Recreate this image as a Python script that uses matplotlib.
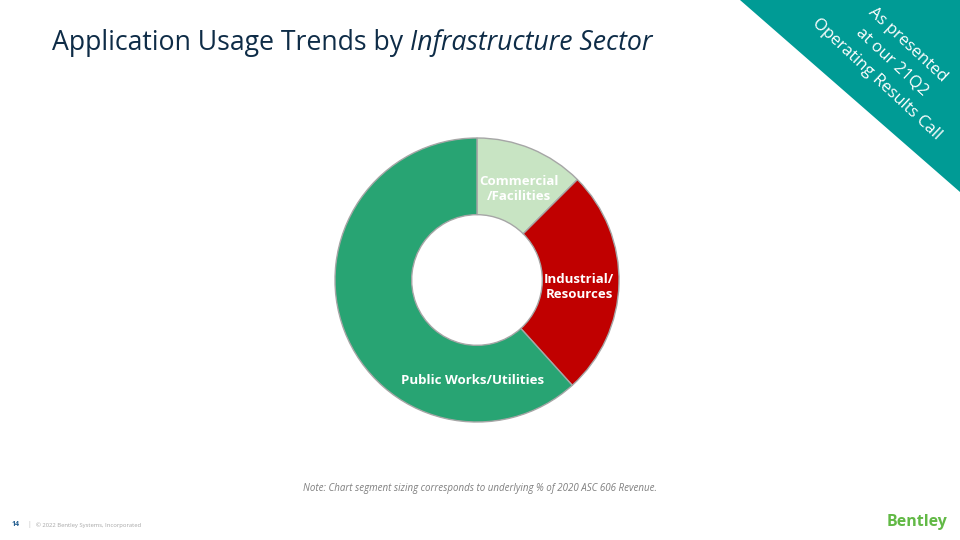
import matplotlib
matplotlib.use("Agg")
import matplotlib.pyplot as plt
from matplotlib.patches import Polygon
import numpy as np

# Data
sectors = ["Commercial\n/Facilities", "Industrial/\nResources", "Public Works/Utilities"]
shares = [12.5, 25.8, 61.7]
colors = ["#C8E4C3", "#C00000", "#28A473"]
corner_lines = ["As presented", "at our 21Q2", "Operating Results Call"]

plt.rcParams['font.family'] = ['Open Sans', 'DejaVu Sans']

W, H = 960, 540
fig = plt.figure(figsize=(9.6, 5.4), dpi=100)
fig.patch.set_facecolor("white")

# Background / decoration axes in pixel coords
bg = fig.add_axes([0, 0, 1, 1])
bg.set_xlim(0, W)
bg.set_ylim(H, 0)
bg.axis("off")

# Teal corner triangle
bg.add_patch(Polygon([[740, 0], [960, 0], [960, 192]], closed=True,
                     facecolor="#009B95", edgecolor="none"))
ang = np.deg2rad(43)
nvec = np.array([-np.sin(ang), np.cos(ang)])
mid = np.array([892.0, 62.0])
for i, line in enumerate(corner_lines):
    p = mid + (i - 1) * 23 * nvec
    bg.text(p[0], p[1], line, rotation=-43, ha="center", va="center", color="white",
            fontsize=12.0, rotation_mode="anchor")

# Title
t1 = bg.text(52, 43, "Application Usage Trends by ", fontsize=19.2, color="#0E2C47",
             ha="left", va="center")
fig.canvas.draw()
bb = t1.get_window_extent()
bg.text(bb.x1, H - 43, "Infrastructure Sector", fontsize=19.2, color="#0E2C47",
        style="italic", ha="left", va="center", transform=None)

# Note
bg.text(480, 488, "Note: Chart segment sizing corresponds to underlying % of 2020 ASC 606 Revenue.",
        fontsize=7, style="italic", color="#7F7F7F", ha="center", va="center")

# Footer
bg.text(12, 525, "14", fontsize=5, fontweight="bold", color="#1F5B8E", ha="left", va="center")
bg.text(27, 525, "|", fontsize=5, color="#BFBFBF", ha="left", va="center")
bg.text(36, 525, "© 2022 Bentley Systems, Incorporated", fontsize=4.2, color="#A6A6A6",
        ha="left", va="center")
bg.text(917, 522, "Bentley", fontsize=11.5, fontweight="bold", color="#62B946",
        ha="center", va="center")

# Donut
cx, cy, r = 477, 280, 142
ax = fig.add_axes([(cx - r) / W, (H - cy - r) / H, 2 * r / W, 2 * r / H])
wedges, _ = ax.pie(shares, colors=colors, startangle=90, counterclock=False, radius=1,
                   wedgeprops=dict(width=0.54, edgecolor="#A6A6A6", linewidth=1))
ax.set_xlim(-1, 1)
ax.set_ylim(-1, 1)
ax.set_aspect("equal")
ax.axis("off")

# Overlay for labels
ov = fig.add_axes([0, 0, 1, 1])
ov.set_xlim(0, W)
ov.set_ylim(H, 0)
ov.axis("off")
ov.patch.set_alpha(0)

label_pos = [(519, 189), (579, 287), (473, 380)]
for lab, (px, py) in zip(sectors, label_pos):
    ov.text(px, py, lab, fontsize=9.5, fontweight="bold", color="white",
            ha="center", va="center", linespacing=1.25)

fig.savefig("out.png", dpi=100)
